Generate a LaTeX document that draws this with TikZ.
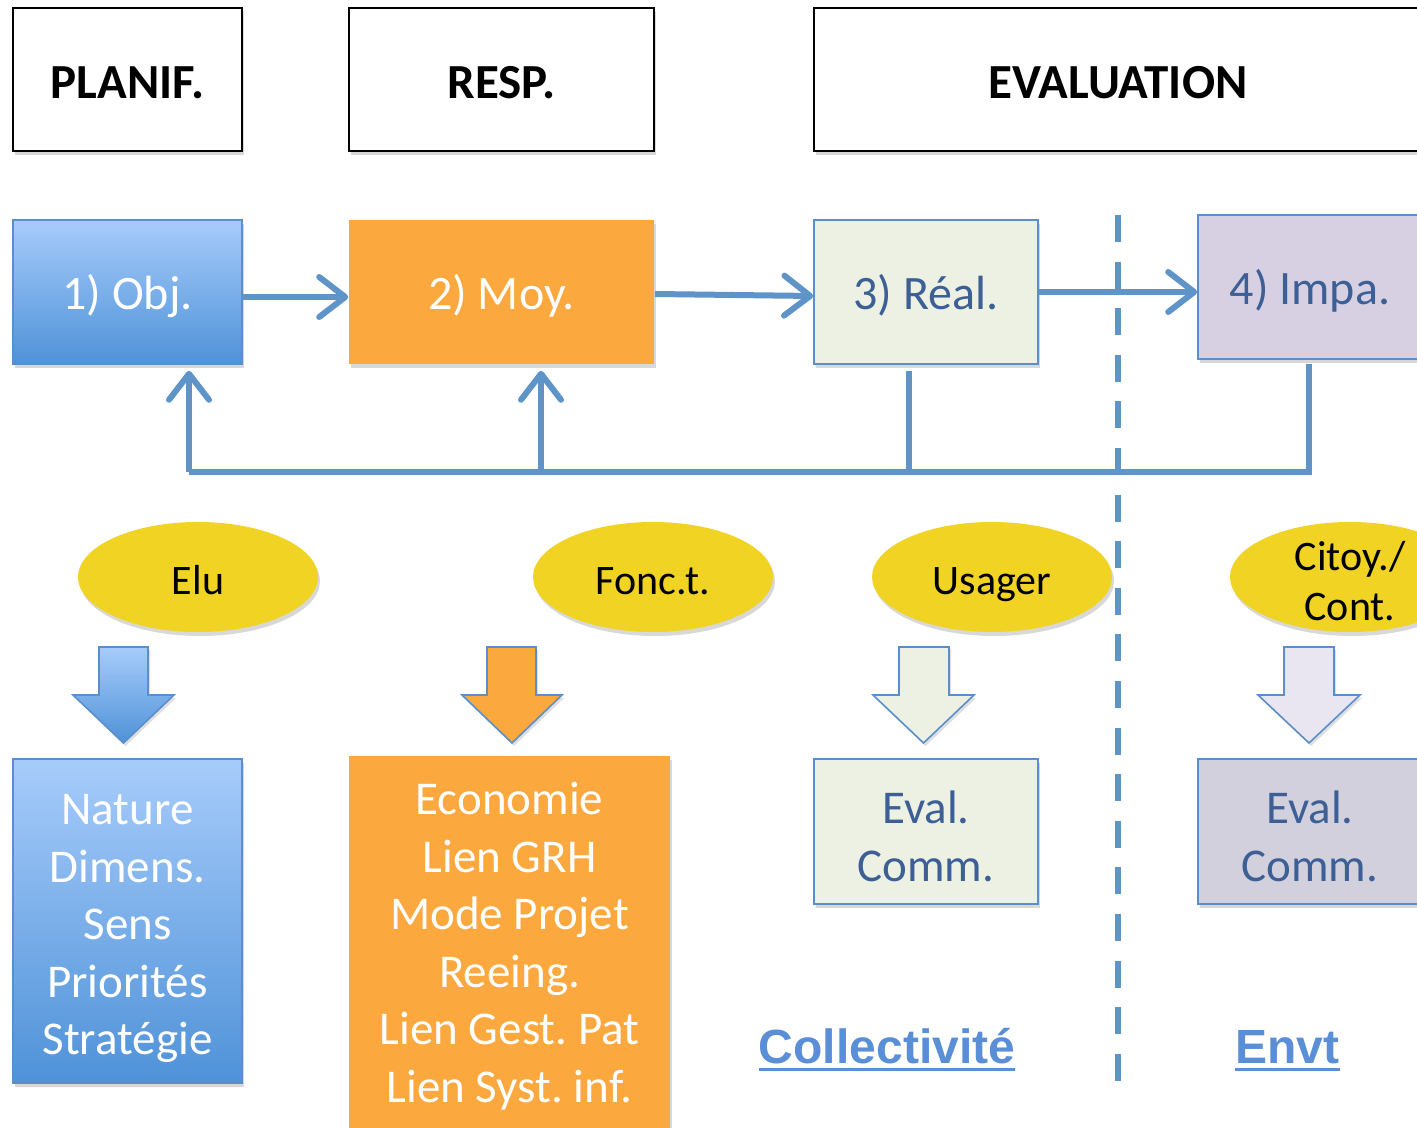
\documentclass[tikz,border=0pt]{standalone}
\usepackage{fontspec}
\setmainfont{Carlito}
\newfontfamily\lsans{Liberation Sans}
\frenchspacing
\usetikzlibrary{arrows.meta,shapes.geometric,shadows,calc}
\definecolor{conn}{HTML}{5E94C8}
\definecolor{bord}{HTML}{5B8FCB}
\definecolor{bluetop}{HTML}{A7CCFB}
\definecolor{bluebot}{HTML}{4F92D8}
\definecolor{orng}{HTML}{FBA83F}
\definecolor{grn}{HTML}{EDF1E4}
\definecolor{purp}{HTML}{D7D0E3}
\definecolor{purpb}{HTML}{D3D0DD}
\definecolor{purpa}{HTML}{E9E5F1}
\definecolor{ell}{HTML}{F1D323}
\definecolor{dtxt}{HTML}{3C5F95}
\definecolor{ltitle}{HTML}{5A8FD8}
\begin{document}
\begin{tikzpicture}[x=0.5pt,y=-0.5pt,
  shad/.style={drop shadow={opacity=0.3,shadow xshift=1pt,shadow yshift=-2pt}},
  hdr/.style={draw=black,line width=1pt,fill=white,inner sep=0pt,shad,
    text height=19.5pt,text depth=0pt,
    font=\fontsize{24.5}{28}\selectfont\bfseries},
  box/.style={line width=0.8pt,inner sep=0pt,align=center,shad},
  onel/.style={text height=20pt,text depth=2pt,font=\fontsize{24}{28}\selectfont},
  multi/.style={font=\fontsize{23.5}{28.75}\selectfont},
  bluebox/.style={box,draw=bord,top color=bluetop,bottom color=bluebot,text=white},
  orgbox/.style={box,fill=orng,text=white},
  grnbox/.style={box,draw=bord,fill=grn,text=dtxt},
  prpbox/.style={box,draw=bord,fill=purp,text=dtxt},
  elli/.style={ellipse,fill=ell,inner sep=0pt,minimum width=120pt,minimum height=55pt,
    align=center,shad,font=\fontsize{21}{25}\selectfont},
  elone/.style={elli,text height=18pt,text depth=1pt},
  arr/.style={conn,line width=3pt,-{Straight Barb[length=13pt,width=20pt,round]}},
  fbl/.style={conn,line width=3pt},
  barrow/.style={draw=bord,line width=0.8pt,line join=miter,
    drop shadow={opacity=0.25,shadow xshift=1pt,shadow yshift=-1.5pt}},
  ttl/.style={text=ltitle,inner sep=0pt,anchor=base,
    font=\fontsize{24}{28}\selectfont\lsans\bfseries},
  ul/.style={ltitle,line width=1.5pt}
]
\useasboundingbox (0,0) rectangle (1417,1128);
\clip (0,0) rectangle (1417,1128);
\fill[white] (0,0) rectangle (1417,1128);

% headers
\node[hdr,minimum width=114.5pt,minimum height=71.5pt] (hplan) at (127.5,79.5) {PLANIF.};
\node[hdr,minimum width=152.5pt,minimum height=71.5pt] (hresp) at (501.5,79.5) {RESP.};
\node[hdr,minimum width=304pt,minimum height=71.5pt,text width=304pt,align=center] (heval) at (1118,79.5) {EVALUATION};

% dashed separator
\coordinate (dtop) at (1118,215);
\coordinate (dbot) at (1118,1082);
\draw[conn,line width=3pt,dash pattern=on 13.5pt off 9.8pt] (dtop) -- (dbot);

% process boxes
\node[bluebox,onel,minimum width=114.5pt,minimum height=72pt] (b1) at (127.5,292) {1) Obj.};
\node[orgbox,onel,minimum width=152.5pt,minimum height=72pt] (b2) at (501.5,292) {2) Moy.};
\node[grnbox,onel,minimum width=112pt,minimum height=72pt] (b3) at (926,292) {3) Réal.};
\node[prpbox,onel,minimum width=112pt,minimum height=72pt] (b4) at (1310,287) {4) Impa.};

% forward arrows
\draw[arr] ([yshift=-2.5pt]b1.east) -- ([yshift=-2.5pt]b2.west);
\draw[arr] ([yshift=-1pt]b2.east) -- ([yshift=-2pt]b3.west);
\draw[arr] (b3.east) -- (b3.east -| b4.west);

% feedback loop
\coordinate (fbL) at (189,472);
\coordinate (fb2) at (541,472);
\coordinate (fb3) at (909,472);
\coordinate (fbR) at (1309,472);
\draw[fbl,shorten <=3pt] (b3.south -| fb3) -- (fb3);
\draw[fbl,shorten <=2pt] (b4.south -| fbR) -- (fbR) -- (fbL);
\draw[arr,shorten >=3pt] (fbL) -- (fbL |- b1.south);
\draw[arr,shorten >=3pt] (fb2) -- (fb2 |- b2.south);

% actors
\node[elone] (e1) at (198,577) {Elu};
\node[elone] (e2) at (653,577) {Fonc.t.};
\node[elone] (e3) at (992,577) {Usager};
\node[elli,inner ysep=-3.8pt] (e4) at (1350,577) {\rule{0pt}{19pt}Citoy./\\Cont.};

% block arrows
\draw[barrow,top color=bluetop,bottom color=bluebot] (99,647) -- (148,647) -- (148,695) -- (174,695) -- (123.5,743) -- (73,695) -- (99,695) -- cycle;
\draw[barrow,fill=orng] (487,647) -- (536,647) -- (536,695) -- (562,695) -- (512,743) -- (462,695) -- (487,695) -- cycle;
\draw[barrow,fill=grn] (899,647) -- (949,647) -- (949,695) -- (974,695) -- (923.5,743) -- (873,695) -- (899,695) -- cycle;
\draw[barrow,fill=purpa] (1284,647) -- (1334,647) -- (1334,695) -- (1360,695) -- (1309,743) -- (1258,695) -- (1284,695) -- cycle;

% bottom boxes
\node[bluebox,multi,minimum width=114.5pt,minimum height=162pt] (d1) at (127.5,921) {\rule{0pt}{23pt}Nature\\Dimens.\\Sens\\Priorités\\Stratégie};
\node[orgbox,multi,minimum width=160.5pt,minimum height=190pt] (d2) at (509.5,946) {Economie\\Lien GRH\\Mode Projet\\Reeing.\\Lien Gest. Pat\\Lien Syst. inf.};
\node[grnbox,font=\fontsize{23.5}{29}\selectfont,minimum width=112pt,minimum height=72.5pt] (d3) at (926,831.5) {\rule{0pt}{21.5pt}Eval.\\Comm.};
\node[prpbox,fill=purpb,font=\fontsize{23.5}{29}\selectfont,minimum width=112pt,minimum height=72.5pt] (d4) at (1310,831.5) {\rule{0pt}{21.5pt}Eval.\\Comm.};

% section titles
\node[ttl] (col) at (887,1063) {Collectivité};
\draw[ul] ([yshift=-3pt]col.base west) -- ([yshift=-3pt]col.base east);
\node[ttl] (env) at (1287.5,1063) {Envt};
\draw[ul] ([yshift=-3pt]env.base west) -- ([yshift=-3pt]env.base east);
\end{tikzpicture}
\end{document}
